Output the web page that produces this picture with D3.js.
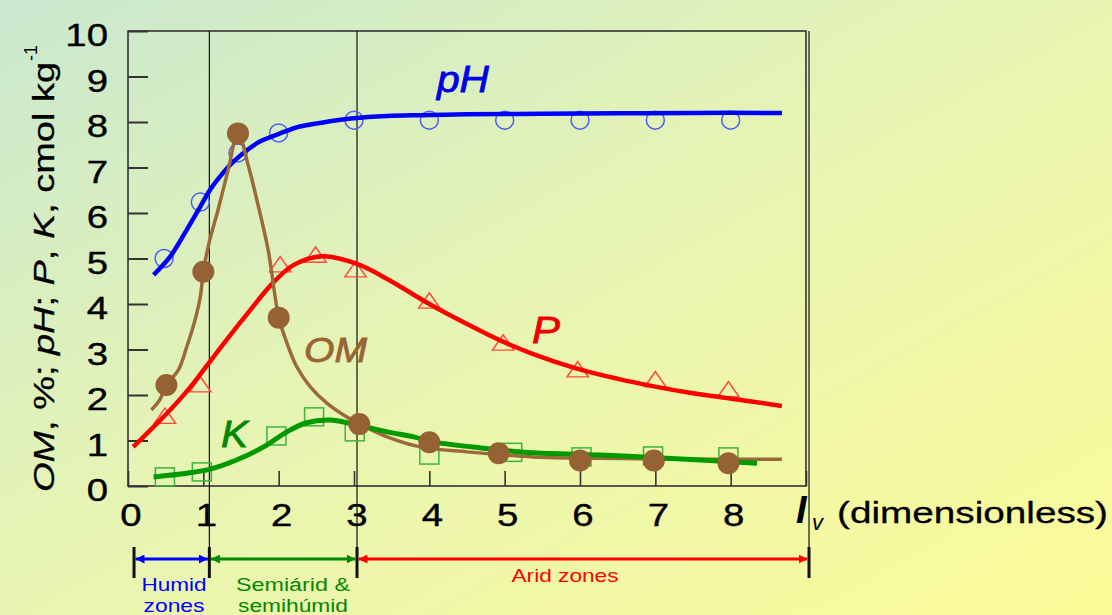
<!DOCTYPE html>
<html>
<head>
<meta charset="utf-8">
<script src="https://cdn.jsdelivr.net/npm/d3@7/dist/d3.min.js"></script>
<style>
  html, body { margin: 0; padding: 0; }
  body { width: 1112px; height: 615px; overflow: hidden; }
  svg text { font-family: Arial, "Liberation Sans", sans-serif; }
</style>
</head>
<body>
<div id="chart"></div>
<script>
// ---- data ----
var xTickVals = [0, 1, 2, 3, 4, 5, 6, 7, 8];
var yTickVals = [0, 1, 2, 3, 4, 5, 6, 7, 8, 9, 10];

// measured points
var phPtsX = [0.48, 0.96, 1.46, 2.0, 3.0, 4.0, 5.0, 6.0, 7.0, 8.0];
var phPtsY = [5.0, 6.24, 7.32, 7.76, 8.04, 8.04, 8.04, 8.04, 8.04, 8.04];
var pPtsX = [0.49, 0.96, 2.02, 2.49, 3.02, 4.0, 4.98, 5.97, 7.0, 7.97];
var pPtsY = [1.49, 2.18, 4.82, 5.03, 4.71, 4.02, 3.10, 2.51, 2.29, 2.07];
var kPtsX = [0.49, 0.98, 1.97, 2.47, 3.01, 4.0, 5.1, 6.02, 6.97, 7.97];
var kPtsY = [0.20, 0.31, 1.10, 1.52, 1.19, 0.68, 0.74, 0.64, 0.66, 0.64];
var omPtsX = [0.51, 1.0, 1.46, 2.0, 3.07, 4.0, 4.92, 6.0, 6.98, 7.97];
var omPtsY = [2.22, 4.71, 7.75, 3.70, 1.36, 0.96, 0.72, 0.56, 0.56, 0.50];

// fitted curves (traced)
var phCurveX = [0.34, 0.56, 0.78, 0.96, 1.09, 1.22, 1.40, 1.58, 1.75, 2.02, 2.28, 2.55, 2.99, 3.44, 3.88, 4.5, 5.5, 6.5, 7.5, 8.68];
var phCurveY = [4.64, 5.04, 5.63, 6.14, 6.51, 6.80, 7.13, 7.38, 7.57, 7.75, 7.90, 7.98, 8.08, 8.13, 8.15, 8.17, 8.18, 8.19, 8.2, 8.2];
var pCurveX = [0.07, 0.34, 0.60, 0.87, 1.09, 1.35, 1.62, 1.9, 2.2, 2.59, 3.04, 3.44, 4.0, 4.5, 4.94, 5.38, 5.96, 6.49, 6.98, 7.46, 7.97, 8.68];
var pCurveY = [0.86, 1.30, 1.74, 2.26, 2.74, 3.30, 3.86, 4.42, 4.86, 5.05, 4.88, 4.55, 4.00, 3.56, 3.20, 2.90, 2.58, 2.36, 2.19, 2.05, 1.93, 1.76];
var kCurveX = [0.34, 0.78, 1.09, 1.44, 1.80, 2.11, 2.37, 2.68, 2.99, 3.44, 3.79, 4.05, 4.72, 5.38, 6.27, 7.15, 8.35];
var kCurveY = [0.20, 0.28, 0.37, 0.57, 0.86, 1.19, 1.39, 1.45, 1.36, 1.19, 1.08, 0.97, 0.83, 0.73, 0.68, 0.61, 0.50];
var omCurveX = [0.31, 0.42, 0.51, 0.67, 0.78, 0.89, 0.96, 1.0, 1.07, 1.2, 1.33, 1.46, 1.60, 1.71, 1.86, 2.0, 2.11, 2.24, 2.42, 2.64, 2.90, 3.08, 3.44, 3.88, 4.5, 5.38, 6.27, 7.5, 8.68];
var omCurveY = [1.67, 1.89, 2.22, 2.55, 3.06, 3.65, 4.16, 4.71, 5.3, 6.1, 6.95, 7.75, 7.02, 6.29, 5.19, 3.72, 3.14, 2.62, 2.18, 1.82, 1.52, 1.36, 1.08, 0.86, 0.75, 0.64, 0.61, 0.59, 0.59];

// climate zones along I_v
var zoneEdges = [0.08, 1.08, 3.04, 9.04];
var zoneNames = [["Humid", "zones"], ["Semiárid &", "semihúmid"], ["Arid zones"]];
var zoneColors = ["#0000ff", "#008800", "#ff0000"];

var W = 1112, H = 615;

var svg = d3.select("#chart").append("svg")
    .attr("width", W)
    .attr("height", H);

// background gradient
var defs = svg.append("defs");
var grad = defs.append("linearGradient").attr("id", "bg")
    .attr("x1", "0%").attr("y1", "0%").attr("x2", "100%").attr("y2", "100%");
grad.append("stop").attr("offset", "0%").attr("stop-color", "#c9e8cf");
grad.append("stop").attr("offset", "45%").attr("stop-color", "#e6f4b4");
grad.append("stop").attr("offset", "100%").attr("stop-color", "#fcfb98");
svg.append("rect").attr("width", W).attr("height", H).attr("fill", "url(#bg)");

var x = d3.scaleLinear().domain([0, 9]).range([128, 806]);
var y = d3.scaleLinear().domain([0, 10]).range([486, 31]);

// arrow markers for zone bar
zoneColors.forEach(function (c, i) {
    defs.append("marker").attr("id", "arr" + i)
        .attr("viewBox", "0 0 10 10").attr("refX", 10).attr("refY", 5)
        .attr("markerWidth", 9).attr("markerHeight", 9)
        .attr("markerUnits", "userSpaceOnUse")
        .attr("orient", "auto-start-reverse")
        .append("path").attr("d", "M0,0 L10,5 L0,10 z").attr("fill", c);
});

// axes ticks (inside)
svg.append("g").attr("transform", "translate(" + x.range()[0] + ",0)")
    .call(d3.axisLeft(y).tickValues(yTickVals).tickSize(-20).tickFormat(""))
    .call(function (g) { g.select(".domain").remove(); })
    .selectAll("line").attr("stroke", "#333").attr("stroke-width", 2);
svg.append("g").attr("transform", "translate(0," + y.range()[0] + ")")
    .call(d3.axisBottom(x).tickValues(xTickVals.concat([9])).tickSize(-15).tickFormat(""))
    .call(function (g) { g.select(".domain").remove(); })
    .selectAll("line").attr("stroke", "#333").attr("stroke-width", 1.6);

// frame
svg.append("rect")
    .attr("x", x(0)).attr("y", y(10))
    .attr("width", x(9) - x(0)).attr("height", y(0) - y(10))
    .attr("fill", "none").attr("stroke", "#333").attr("stroke-width", 1.6);

// tick labels
svg.selectAll(".ylab").data(yTickVals).enter().append("text")
    .attr("class", "ylab")
    .attr("transform", function (d) { return "translate(108," + (y(d) + 15) + ") scale(1.2,1)"; })
    .attr("text-anchor", "end")
    .attr("font-size", 32)
    .attr("fill", "#000").attr("stroke", "#000").attr("stroke-width", 0.4)
    .text(function (d) { return d; });
svg.selectAll(".xlab").data(xTickVals).enter().append("text")
    .attr("class", "xlab")
    .attr("transform", function (d) { return "translate(" + (x(d) + 3) + ",526) scale(1.2,1)"; })
    .attr("text-anchor", "middle")
    .attr("font-size", 32)
    .attr("fill", "#000").attr("stroke", "#000").attr("stroke-width", 0.4)
    .text(function (d) { return d; });

// I_v (dimensionless)
svg.append("text").attr("x", 796).attr("y", 523)
    .attr("font-size", 38).attr("font-style", "italic").attr("font-weight", "bold").text("I");
svg.append("text").attr("x", 812).attr("y", 530)
    .attr("font-size", 22).attr("font-style", "italic").text("v");
svg.append("text").attr("x", 837).attr("y", 523)
    .attr("font-size", 30).attr("stroke", "#000").attr("stroke-width", 0.3)
    .attr("textLength", 271).attr("lengthAdjust", "spacingAndGlyphs")
    .text("(dimensionless)");

// y title
var yt = svg.append("g").attr("transform", "translate(54,492) rotate(-90)");
var ytt = yt.append("text").attr("x", 0).attr("y", 0).attr("font-size", 30)
    .attr("stroke", "#000").attr("stroke-width", 0.3)
    .attr("textLength", 430).attr("lengthAdjust", "spacingAndGlyphs");
[["OM", true], [", %; ", false], ["pH", true], ["; ", false], ["P", true], [", ", false], ["K", true], [", cmol kg", false]]
    .forEach(function (p) {
        ytt.append("tspan").attr("font-style", p[1] ? "italic" : "normal").text(p[0]);
    });
yt.append("text").attr("x", 431).attr("y", -17).attr("font-size", 18).text("-1");

// zone vertical lines
svg.selectAll(".zline").data(zoneEdges.slice(1)).enter().append("line")
    .attr("x1", function (d) { return x(d); }).attr("x2", function (d) { return x(d); })
    .attr("y1", y(10)).attr("y2", 577)
    .attr("stroke", "#111").attr("stroke-width", 1.2);
svg.selectAll(".zcap").data(zoneEdges).enter().append("line")
    .attr("x1", function (d) { return x(d); }).attr("x2", function (d) { return x(d); })
    .attr("y1", 547).attr("y2", 578)
    .attr("stroke", "#111").attr("stroke-width", 3);

// zone arrows and names
zoneColors.forEach(function (c, i) {
    var a = x(zoneEdges[i]) + 1.5, b = x(zoneEdges[i + 1]) - 1.5;
    svg.append("line").attr("x1", a).attr("x2", b).attr("y1", 559).attr("y2", 559)
        .attr("stroke", c).attr("stroke-width", 3)
        .attr("marker-start", "url(#arr" + i + ")").attr("marker-end", "url(#arr" + i + ")");
});
var zoneText = [
    { cx: 174, rows: [[591, 65], [612, 61]] },
    { cx: 293, rows: [[591, 114], [612, 110]] },
    { cx: 565, rows: [[582, 107]] }
];
zoneText.forEach(function (z, i) {
    z.rows.forEach(function (r, j) {
        svg.append("text").attr("x", z.cx).attr("y", r[0])
            .attr("text-anchor", "middle").attr("font-size", 18)
            .attr("fill", zoneColors[i])
            .attr("textLength", r[1]).attr("lengthAdjust", "spacingAndGlyphs")
            .text(zoneNames[i][j]);
    });
});

// ---- series ----
function zip(xs, ys) { return xs.map(function (v, i) { return [v, ys[i]]; }); }
var line = d3.line()
    .x(function (d) { return x(d[0]); })
    .y(function (d) { return y(d[1]); })
    .curve(d3.curveCatmullRom.alpha(0.5));

// open markers
svg.selectAll(".phpt").data(zip(phPtsX, phPtsY)).enter().append("circle")
    .attr("cx", function (d) { return x(d[0]); }).attr("cy", function (d) { return y(d[1]); })
    .attr("r", 9).attr("fill", "none").attr("stroke", "#4d5ff0").attr("stroke-width", 1.5);
var tri = d3.symbol().type(d3.symbolTriangle).size(150);
svg.selectAll(".ppt").data(zip(pPtsX, pPtsY)).enter().append("path")
    .attr("transform", function (d) { return "translate(" + x(d[0]) + "," + y(d[1]) + ") scale(1.15,0.95)"; })
    .attr("d", tri).attr("fill", "none").attr("stroke", "#ff4a3a").attr("stroke-width", 1.4);
svg.selectAll(".kpt").data(zip(kPtsX, kPtsY)).enter().append("rect")
    .attr("x", function (d) { return x(d[0]) - 9.5; }).attr("y", function (d) { return y(d[1]) - 9; })
    .attr("width", 19).attr("height", 18)
    .attr("fill", "none").attr("stroke", "#3cb43c").attr("stroke-width", 1.5);

// lines
svg.append("path").datum(zip(phCurveX, phCurveY)).attr("d", line)
    .attr("fill", "none").attr("stroke", "#0000ff").attr("stroke-width", 4.5);
svg.append("path").datum(zip(pCurveX, pCurveY)).attr("d", line)
    .attr("fill", "none").attr("stroke", "#ff0000").attr("stroke-width", 4.5);
svg.append("path").datum(zip(omCurveX, omCurveY)).attr("d", line)
    .attr("fill", "none").attr("stroke", "#9c6a3a").attr("stroke-width", 3.5);
svg.append("path").datum(zip(kCurveX, kCurveY)).attr("d", line)
    .attr("fill", "none").attr("stroke", "#009900").attr("stroke-width", 5);

// OM filled dots
svg.selectAll(".ompt").data(zip(omPtsX, omPtsY)).enter().append("circle")
    .attr("cx", function (d) { return x(d[0]); }).attr("cy", function (d) { return y(d[1]); })
    .attr("r", 11).attr("fill", "#956234");

// series labels
var labels = [
    { t: "pH", x: 437, y: 92, s: 36, c: "#0000e6", w: 52 },
    { t: "P", x: 532, y: 343, s: 37, c: "#ee0000", w: 28 },
    { t: "OM", x: 304, y: 362, s: 35, c: "#996633", w: 63 },
    { t: "K", x: 221, y: 447, s: 37, c: "#008800", w: 27 }
];
labels.forEach(function (l) {
    svg.append("text").attr("x", l.x).attr("y", l.y)
        .attr("font-size", l.s).attr("font-style", "italic").attr("fill", l.c)
        .attr("stroke", l.c).attr("stroke-width", 0.8)
        .attr("textLength", l.w).attr("lengthAdjust", "spacingAndGlyphs")
        .text(l.t);
});
</script>
</body>
</html>
